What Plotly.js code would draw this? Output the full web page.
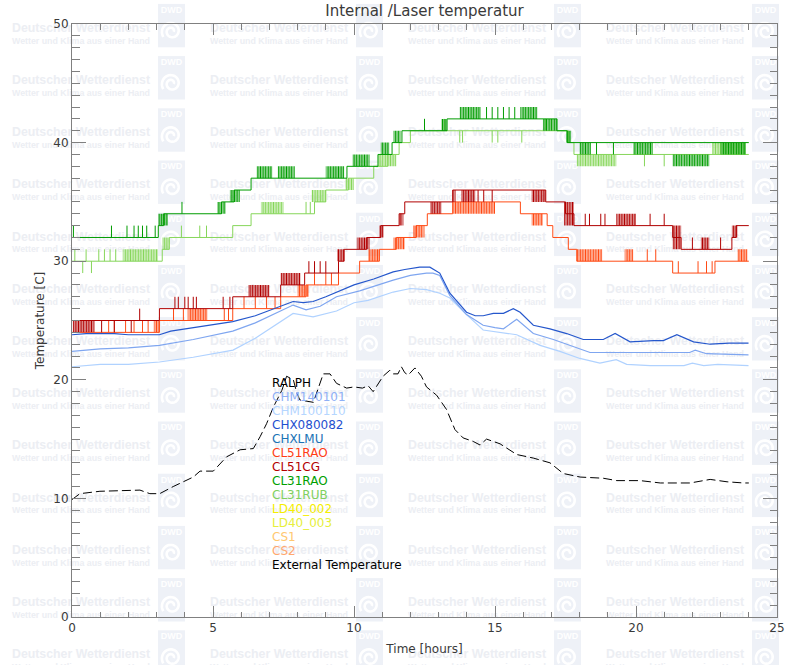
<!DOCTYPE html>
<html><head><meta charset="utf-8">
<script src="https://cdn.plot.ly/plotly-3.0.1.min.js"></script>
<style>
html,body{margin:0;padding:0;background:#fff;}
#wrap{position:relative;width:800px;height:665px;overflow:hidden;background-color:#fff;background-repeat:no-repeat;}
#chart{position:absolute;left:0;top:0;width:800px;height:665px;}
</style></head><body>
<div id="wrap"><div id="chart"></div></div>
<script>
// ---------------- DATA ----------------
const legendNames = ['RALPH','CHM140101','CHM100110','CHX080082','CHXLMU','CL51RAO','CL51CG','CL31RAO','CL31RUB','LD40_002','LD40_003','CS1','CS2','External Temperature'];

// CHX080082 (blue)
const chxT = [0,0.5,1,1.5,2,2.5,3.1,3.5,4.3,5.0,5.7,6.5,7.2,7.84,8.2,8.55,9.0,9.38,10.0,10.7,11.39,11.8,12.33,12.69,13.04,13.4,13.99,14.3,14.58,14.94,15.3,15.65,15.89,16.36,16.95,17.54,18.13,18.84,19.26,19.79,20.3,20.62,20.97,21.45,22.04,22.63,23.3,23.99];
const chxV = [23.8,23.9,23.9,23.9,23.8,23.8,23.8,24.1,24.4,24.7,24.9,25.4,26.0,26.6,26.5,26.6,27.0,27.4,28.0,28.5,29.1,29.3,29.5,29.5,29.0,27.3,25.7,25.4,25.4,25.6,25.6,26.0,25.7,24.6,24.3,23.9,23.4,23.4,23.9,23.2,23.3,23.3,23.3,23.8,23.2,23.0,23.1,23.1];
// CHM140101
const chm1T = [0,1,2,3.1,4.3,5.7,6.5,7.2,7.84,8.3,8.8,9.38,10.2,11.39,12.0,12.57,12.8,13.04,13.4,13.99,14.58,15.0,15.3,15.77,16.36,17.07,17.78,18.37,19.9,21.0,21.9,22.1,22.5,23.99];
const chm1V = [22.4,22.6,22.7,22.9,23.4,24.1,24.8,25.6,26.3,25.9,26.2,27.0,27.5,28.4,28.8,29.0,29.0,28.8,27.1,25.5,24.6,24.4,24.3,25.1,23.9,23.4,22.8,22.3,22.3,22.3,22.3,22.5,22.2,22.1];
// CHM100110
const chm2T = [0,1,2,3.1,4.3,5.71,6.5,7.2,7.84,8.55,9.38,10.0,10.5,11.39,12.0,12.57,13.04,13.4,13.99,14.58,15.17,15.77,16.6,17.3,18.01,18.72,19.3,19.67,20.5,21.7,22.0,22.4,22.9,23.99];
const chm2V = [21.1,21.3,21.3,21.5,21.9,22.5,23.5,24.6,25.6,25.3,25.8,26.5,26.7,27.4,27.7,27.6,27.3,26.9,25.5,24.2,24.0,23.8,22.9,22.4,21.8,21.4,21.7,21.3,21.2,21.2,21.4,21.2,21.3,21.2];

// External temperature
const extT = [0,0.28,0.99,1.94,2.41,2.76,3.11,3.59,4.3,4.54,5.01,5.48,5.96,6.43,6.67,6.9,7.14,7.44,7.61,7.85,7.97,8.08,8.32,8.56,8.91,9.15,9.38,9.74,10.0,10.3,10.5,10.68,11.03,11.27,11.4,11.56,11.68,11.8,11.92,12.16,12.39,12.57,12.93,13.28,13.58,13.87,14.23,14.47,14.7,15.18,15.77,16.36,16.95,17.42,18.02,18.84,19.32,20.15,20.86,21.92,22.63,23.23,23.82,24.0];
const extV = [9.9,10.4,10.6,10.7,10.7,10.4,10.4,11.0,11.8,12.3,12.3,13.5,14.1,14.2,15.2,16.3,17.7,19.1,20.3,20.0,18.9,18.3,18.2,18.1,20.5,20.5,19.7,19.3,19.4,19.3,19.5,19.0,20.3,20.8,20.5,20.5,21.1,20.6,20.4,21.0,20.3,19.4,18.7,17.5,15.8,15.1,14.8,14.5,15.0,14.6,13.7,13.4,13.0,12.1,11.8,11.7,11.5,11.5,11.3,11.3,11.6,11.4,11.3,11.3];

// CL51CG (dark red) step levels
const cgT = [0,3.1,5.7,7.4,8.25,9.45,9.65,10.45,10.95,11.6,11.8,13.5,16.8,17.5,17.8,21.3,21.6,23.4,23.55,24];
const cgV = [25,26,27,28,29,30,31,32,33,34,35,36,35,34,33,32,31,32,33,33];
const cgBlocks = [[0.03,0.8,24,25],[6.25,7.0,27,28],[7.4,8.1,28,29],[9.4,9.65,30,31],[10.1,10.55,31,32],[10.9,11.05,32,33],[11.6,11.75,33,34],[12.7,13.1,34,35],[13.5,13.6,35,36],[13.8,14.3,35,36],[16.3,16.8,35,36],[17.45,17.8,33,35],[19.3,20.0,33,34],[21.3,21.6,31,33],[22.3,22.6,31,32],[23.4,23.6,32,33]];
const cgSpikes = [[1.05,24],[1.5,24],[2.1,24],[2.4,26],[3.65,27],[3.77,27],[4.0,27],[4.12,27],[4.3,27],[4.41,27],[5.36,27],[5.6,27],[8.4,30],[8.6,30],[8.8,30],[9.0,30],[14.4,35],[14.6,35],[14.9,35],[18.2,34],[18.35,34],[18.75,34],[18.9,34],[20.5,34],[21.0,34],[22.0,32],[23.0,32]];

// CL51RAO (orange red)
const raoT = [0,3.1,5.7,7.4,8.3,9.45,10.2,10.9,11.5,12.2,12.6,13.5,15.9,16.85,17.05,17.6,17.9,21.3,22.8,24];
const raoV = [24,25,26,27,28,29,30,31,32,33,34,35,34,33,32,31,30,29,30,30];
const raoBlocks = [[2.9,3.1,24,25],[4.1,4.8,25,26],[8.0,8.4,27,28],[10.5,10.9,30,31],[11.4,11.8,31,32],[12.1,12.5,32,33],[13.5,15.0,34,35],[16.3,16.7,33,34],[17.9,18.8,30,31],[19.6,19.9,30,31],[23.6,23.95,30,31]];
const raoSpikes = [[1.3,25],[1.5,25],[1.9,25],[2.2,25],[2.5,25],[2.7,25],[3.6,26],[3.95,26],[5.4,26],[5.55,26],[6.1,27],[6.5,27],[6.9,27],[7.2,27],[8.6,29],[9.0,29],[9.2,29],[15.2,35],[15.5,35],[15.8,35],[20.4,31],[20.7,31],[21.5,30],[22.2,30],[22.5,30],[22.7,30]];

// CL31RAO (dark green)
const c31T = [0,3.06,3.25,5.3,5.75,6.35,9.75,10.85,11.35,11.7,13.3,17.2,17.55,24];
const c31V = [32,33,34,35,36,37,38,39,40,41,42,41,40,40];
const c31Blocks = [[3.06,3.4,33,34],[5.15,5.45,34,35],[5.6,5.95,35,36],[6.55,7.1,37,38],[7.3,7.9,37,38],[9.0,9.65,37,38],[9.95,10.55,38,39],[10.95,11.25,39,40],[11.4,11.65,40,41],[13.1,13.3,41,42],[13.75,14.5,42,43],[15.9,16.5,42,43],[16.7,17.2,41,42],[17.55,17.7,40,41],[18.0,18.4,39,40],[19.9,20.6,39,40],[21.3,22.6,38,39],[23.0,23.9,39,40]];
const c31Spikes = [[0.05,33],[1.4,33],[1.95,33],[2.2,33],[2.35,33],[2.5,33],[2.65,33],[2.95,33],[3.9,35],[12.5,42],[14.7,43],[14.9,43],[15.1,43],[15.3,43],[15.5,43],[15.7,43],[18.6,39],[19.2,39]];

// CL31RUB (light green)
const rubT = [0,3.2,3.45,5.7,6.35,8.6,9.0,9.8,10.7,11.2,11.6,12.0,17.6,17.8,24];
const rubV = [30,31,32,33,34,35,36,37,38,39,40,41,40,39,39];
const rubBlocks = [[1.8,3.05,30,31],[3.2,3.45,31,32],[6.7,7.5,34,35],[8.5,9.0,35,36],[9.7,10.0,36,37],[10.85,11.5,38,39],[17.9,19.3,38,39],[22.7,23.9,39,40]];
const rubSpikes = [[0.1,31],[0.38,29],[0.5,31],[0.69,29],[0.95,31],[1.15,31],[1.35,31],[1.55,31],[3.88,33],[4.53,33],[4.77,33],[8.3,35],[8.45,35],[12.5,42],[13.2,42],[13.75,40],[13.85,40],[14.9,40],[15.1,40],[15.95,40],[16.8,42],[17.0,42],[20.3,38],[21.0,38]];

// ---------------- STYLES ----------------
const legendColors = ['#000000','#8fb0f6','#b5d6ff','#1f4fcf','#1a72b5','#ff3c14','#b30000','#00a000','#80d060','#f5ee00','#e6ef3c','#ffc870','#ffa870','#000000'];
const C = {chx:'#2557cc', chm1:'#7fa6f0', chm2:'#b0d2ff', cg:'#b00000', rao:'#ff4a14', c31:'#009c00', rub:'#86d65a'};

// ---------------- WATERMARK (background image of the page) ----------------
(function(){
  const TW=198, TH=52.2, Y0=27.3;
  let s='<svg xmlns="http://www.w3.org/2000/svg" width="800" height="665"><rect width="800" height="665" fill="#ffffff"/>';
  for(let r=-1;r<14;r++){
    const yc=Y0+r*TH;
    for(let c=0;c<5;c++){
      const x0=c*TW;
      s+='<text x="'+(x0+12)+'" y="'+(yc+4.5)+'" font-family="Liberation Sans" font-weight="bold" font-size="12.5" fill="#eceef3" textLength="138" lengthAdjust="spacingAndGlyphs">Deutscher Wetterdienst</text>';
      s+='<text x="'+(x0+12)+'" y="'+(yc+16.3)+'" font-family="Liberation Sans" font-weight="bold" font-size="9" fill="#eceef3" textLength="138" lengthAdjust="spacingAndGlyphs">Wetter und Klima aus einer Hand</text>';
      s+='<rect x="'+(x0+158)+'" y="'+(yc-23.4)+'" width="27" height="43.4" fill="#eef1f7"/>';
      s+='<text x="'+(x0+171.5)+'" y="'+(yc-14.5)+'" text-anchor="middle" font-family="Liberation Sans" font-weight="bold" font-size="9" fill="#ffffff">DWD</text>';
      const cx=x0+171.5, cy=yc+4;
      let d='';
      for(let k=0;k<=60;k++){const a=-0.6+k*0.17; const rr=10-k*0.13; const px=cx+rr*Math.cos(a+Math.PI), py=cy+rr*Math.sin(a+Math.PI); d+=(k?'L':'M')+px.toFixed(2)+','+py.toFixed(2);}
      s+='<path d="'+d+'" stroke="#ffffff" stroke-width="2.6" fill="none"/>';
    }
  }
  s+='</svg>';
  document.getElementById('wrap').style.backgroundImage='url("data:image/svg+xml;charset=utf-8,'+encodeURIComponent(s)+'")';
})();

// ---------------- TRACES ----------------
function stepAt(t,ts,vs){let v=vs[0];for(let i=0;i<ts.length;i++){if(ts[i]<=t)v=vs[i];}return v;}
function stepTrace(ts,vs,color){return {x:ts,y:vs,mode:'lines',line:{shape:'hv',color:color,width:1},hoverinfo:'skip',showlegend:false};}
function spikeTrace(sp,ts,vs,color){const x=[],y=[];for(const s of sp){x.push(s[0],s[0],null);y.push(stepAt(s[0],ts,vs),s[1],null);}return {x:x,y:y,mode:'lines',line:{color:color,width:1},hoverinfo:'skip',showlegend:false};}
function blockTrace(bl,color){const x=[],y=[];for(const b of bl){x.push(b[0],b[1],b[1],b[0],b[0],null);y.push(b[2],b[2],b[3],b[3],b[2],null);}return {x:x,y:y,mode:'lines',fill:'toself',fillcolor:'rgba(0,0,0,0)',fillpattern:{shape:'|',fgcolor:color,bgcolor:'rgba(255,255,255,0)',size:2.6,solidity:0.65},line:{width:0,color:color},hoverinfo:'skip',showlegend:false};}
function lineTrace(xs,ys,color,w,dash){return {x:xs,y:ys,mode:'lines',line:{color:color,width:w,dash:dash||'solid'},hoverinfo:'skip',showlegend:false};}

const traces=[
  blockTrace(rubBlocks,C.rub), stepTrace(rubT,rubV,C.rub), spikeTrace(rubSpikes,rubT,rubV,C.rub),
  blockTrace(c31Blocks,C.c31), stepTrace(c31T,c31V,C.c31), spikeTrace(c31Spikes,c31T,c31V,C.c31),
  blockTrace(raoBlocks,C.rao), stepTrace(raoT,raoV,C.rao), spikeTrace(raoSpikes,raoT,raoV,C.rao),
  blockTrace(cgBlocks,C.cg), stepTrace(cgT,cgV,C.cg), spikeTrace(cgSpikes,cgT,cgV,C.cg),
  lineTrace(chm2T,chm2V,C.chm2,1.2), lineTrace(chm1T,chm1V,C.chm1,1.2), lineTrace(chxT,chxV,C.chx,1.2),
  lineTrace(extT,extV,'#000000',1,'9px,4px')
];

// legend as text labels
const annotations = legendNames.map((n,i)=>({
  x:(270-72.3)/28.19, y:(617-(382.7+i*14.02))/11.86, xref:'x', yref:'y',
  text:n, showarrow:false, xanchor:'left', yanchor:'middle',
  font:{family:'DejaVu Sans',size:12,color:legendColors[i]}
}));

const axFont={family:'DejaVu Sans',size:12,color:'#3a3a3a'};
const layout={
  width:800,height:665,
  margin:{l:72.3,r:23,t:24,b:48,autoexpand:false},
  paper_bgcolor:'rgba(0,0,0,0)',plot_bgcolor:'rgba(0,0,0,0)',
  showlegend:false,
  title:{text:'Internal /Laser temperatur',font:{family:'DejaVu Sans',size:15,color:'#3a3a3a'},x:0.5,xref:'paper',xanchor:'center',y:1-11/665,yref:'container',yanchor:'middle'},
  xaxis:{range:[0,25],tick0:0,dtick:5,ticks:'inside',ticklen:11,tickwidth:1,tickcolor:'#808080',showline:true,linecolor:'#808080',linewidth:1,mirror:'ticks',showgrid:false,zeroline:false,
    minor:{dtick:1,ticks:'inside',ticklen:5.5,tickcolor:'#808080',showgrid:false},
    tickfont:axFont,title:{text:'Time [hours]',font:axFont,standoff:10}},
  yaxis:{range:[0,50],tick0:0,dtick:10,ticks:'inside',ticklen:14,tickwidth:1,tickcolor:'#808080',showline:true,linecolor:'#808080',linewidth:1,mirror:'ticks',showgrid:false,zeroline:false,
    minor:{dtick:1,ticks:'inside',ticklen:7.5,tickcolor:'#808080',showgrid:false},
    tickfont:axFont,title:{text:'Temperature [C]',font:axFont,standoff:6}},
  annotations:annotations
};
Plotly.newPlot('chart',traces,layout,{staticPlot:true,displayModeBar:false});
</script>
</body></html>
